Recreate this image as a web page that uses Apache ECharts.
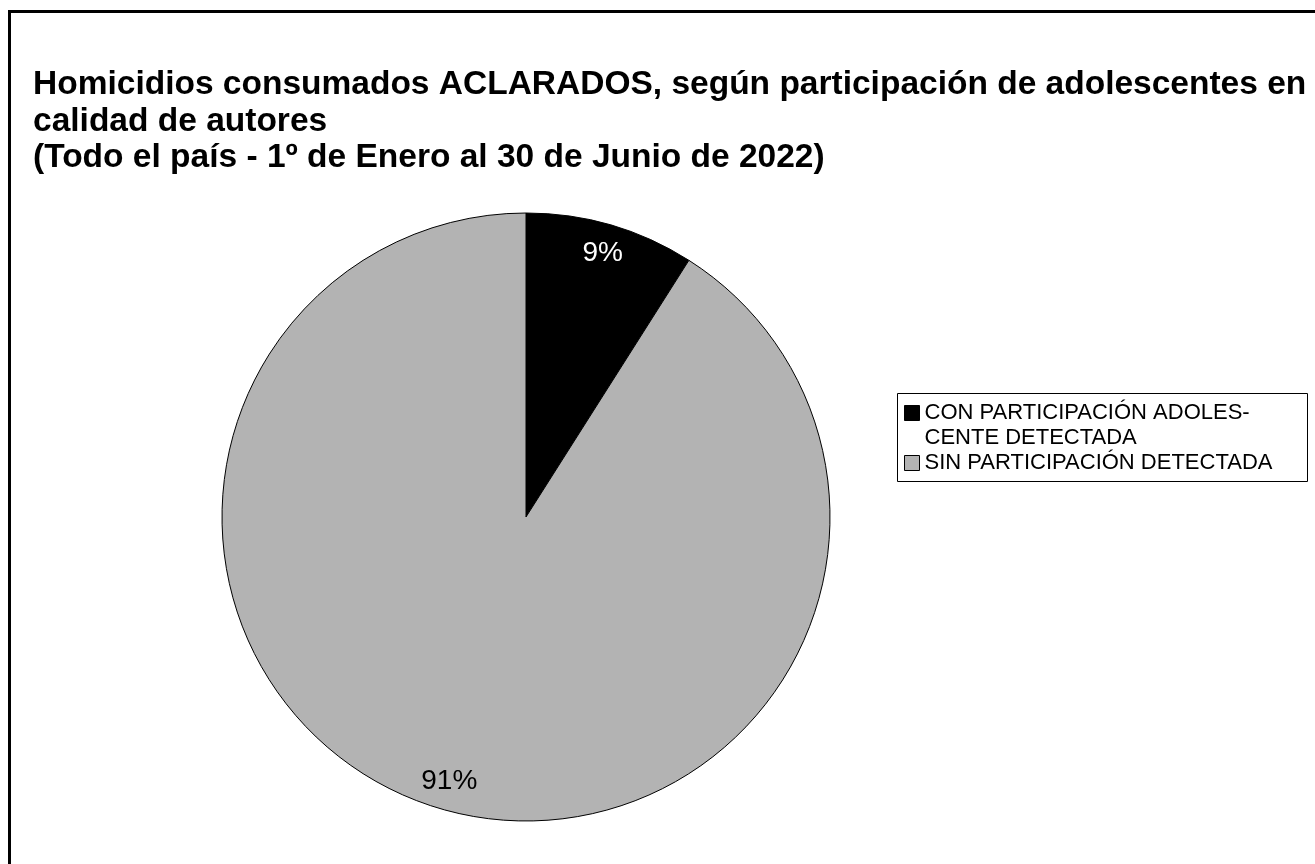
<!DOCTYPE html>
<html>
<head>
<meta charset="utf-8">
<script src="https://cdn.jsdelivr.net/npm/echarts@6/dist/echarts.min.js"></script>
<style>
html,body{margin:0;padding:0;background:#fff;}
#chart{width:1315px;height:864px;}
</style>
</head>
<body>
<div id="chart"></div>
<script>
var titleLines = [
  'Homicidios consumados ACLARADOS, según participación de adolescentes en',
  'calidad de autores',
  '(Todo el país - 1º de Enero al 30 de Junio de 2022)'
];
var categories = ['CON PARTICIPACIÓN ADOLES-\nCENTE DETECTADA', 'SIN PARTICIPACIÓN DETECTADA'];
var values = [9, 91];
var colors = ['#000000', '#b3b3b3'];
var labelColors = ['#ffffff', '#000000'];

var chart = echarts.init(document.getElementById('chart'), null, {renderer: 'canvas'});
var FONT = '"Liberation Sans", Arial, sans-serif';

var pieData = categories.map(function (c, i) {
  return {name: c, value: values[i], itemStyle: {color: colors[i]}};
});
var labelData = categories.map(function (c, i) {
  return {name: c, value: values[i], label: {color: labelColors[i]}};
});

chart.setOption({
  animation: false,
  backgroundColor: '#ffffff',
  title: {
    text: titleLines.join('\n'),
    left: 33,
    top: 67,
    padding: 0,
    textStyle: {fontFamily: FONT, fontWeight: 'bold', fontSize: 33.5, lineHeight: 36.5, color: '#000'}
  },
  legend: {
    orient: 'vertical',
    left: 904,
    top: 375.5,
    padding: 0,
    itemGap: 0,
    itemWidth: 15,
    itemHeight: 15,
    icon: 'rect',
    data: categories,
    formatter: function (name) {
      return name.indexOf('\n') >= 0 ? '\n' + name : name;
    },
    textStyle: {fontFamily: FONT, fontSize: 22, lineHeight: 25, color: '#000'},
    itemStyle: {borderColor: '#000', borderWidth: 1}
  },
  graphic: [
    {type: 'rect', shape: {x: 9.5, y: 11.5, width: 2000, height: 2000},
     style: {fill: 'none', stroke: '#000', lineWidth: 3}, silent: true},
    {type: 'rect', shape: {x: 897.5, y: 393.5, width: 410, height: 88},
     style: {fill: 'none', stroke: '#000', lineWidth: 1}, silent: true}
  ],
  series: [
    {
      type: 'pie',
      center: [526, 517],
      radius: [0, 304],
      startAngle: 90,
      clockwise: true,
      label: {show: false},
      labelLine: {show: false},
      emphasis: {disabled: true},
      itemStyle: {borderColor: '#000', borderWidth: 1},
      data: pieData
    },
    {
      type: 'pie',
      center: [526, 517],
      radius: [240, 304],
      startAngle: 90,
      clockwise: true,
      silent: true,
      emphasis: {disabled: true},
      itemStyle: {color: 'rgba(0,0,0,0)', borderWidth: 0},
      label: {show: true, position: 'inside', formatter: '{d}%', fontFamily: FONT, fontSize: 28},
      labelLine: {show: false},
      data: labelData
    }
  ]
});
</script>
</body>
</html>
